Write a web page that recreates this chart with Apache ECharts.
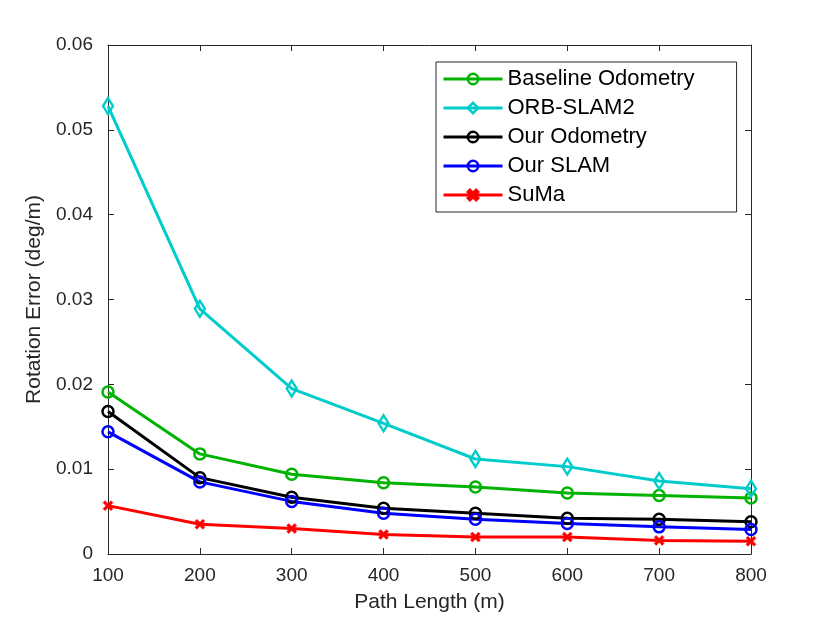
<!DOCTYPE html>
<html lang="en">
<head>
    <meta charset="UTF-8">
    <title>Rotation Error vs Path Length</title>
    <style>
        html, body { margin: 0; padding: 0; background: #fff; }
        #chart { width: 830px; height: 623px; }
    </style>
    <script src="https://cdn.jsdelivr.net/npm/echarts@6/dist/echarts.min.js"></script>
</head>
<body>
    <div id="chart"></div>
    <script>
        // path lengths (m)
        var pathLengths = [100, 200, 300, 400, 500, 600, 700, 800];

        // rotation error (deg/m)
        var baselineOdometry = [0.0191, 0.0118, 0.0094, 0.0084, 0.0079, 0.0072, 0.0069, 0.0066];
        var orbSlam2 = [0.0528, 0.0289, 0.0195, 0.0154, 0.0112, 0.0103, 0.0086, 0.0077];
        var ourOdometry = [0.0168, 0.0090, 0.0067, 0.0054, 0.0048, 0.0042, 0.0041, 0.0038];
        var ourSlam = [0.0144, 0.0085, 0.0062, 0.0048, 0.0041, 0.0036, 0.0032, 0.0029];
        var suma = [0.0057, 0.0035, 0.0030, 0.0023, 0.0020, 0.0020, 0.0016, 0.0015];

        var yTicks = [0, 0.01, 0.02, 0.03, 0.04, 0.05, 0.06];

        var textColor = '#262626';
        var axisColor = '#262626';
        var font = 'Liberation Sans, Arial, Helvetica, sans-serif';

        // bold x marker
        var crossPath = 'path://M0,2 L2,0 L5,3 L8,0 L10,2 L7,5 L10,8 L8,10 L5,7 L2,10 L0,8 L3,5 Z';

        function pairs(vals) {
            return pathLengths.map(function (x, i) { return [x, vals[i]]; });
        }

        function makeSeries(name, vals, color, symbol, size, fill) {
            return {
                name: name,
                type: 'line',
                data: pairs(vals),
                symbol: symbol,
                symbolSize: size,
                showAllSymbol: true,
                lineStyle: { color: color, width: 3 },
                itemStyle: { color: fill || 'rgba(0,0,0,0)', borderColor: color, borderWidth: fill ? 0.5 : 2.5 },
                emphasis: { disabled: true },
                z: 3
            };
        }

        var chart = echarts.init(document.getElementById('chart'));

        var axisBase = {
            axisLine: { show: true, onZero: false, lineStyle: { color: axisColor, width: 1 } },
            axisTick: { show: true, inside: true, length: 6, lineStyle: { color: axisColor } },
            splitLine: { show: false }
        };

        chart.setOption({
            animation: false,
            backgroundColor: '#fff',
            textStyle: { fontFamily: font },
            grid: { left: 108, right: 79, top: 45, bottom: 69 },
            legend: {
                orient: 'vertical',
                left: 436,
                top: 62,
                padding: [6, 42, 6, 6],
                borderColor: '#262626',
                borderWidth: 1,
                backgroundColor: '#fff',
                itemWidth: 59,
                itemHeight: 13,
                itemGap: 7,
                lineStyle: { width: 3 },
                itemStyle: { borderWidth: 2.5 },
                textStyle: { fontSize: 22, color: '#000', fontFamily: font },
                data: ['Baseline Odometry', 'ORB-SLAM2', 'Our Odometry', 'Our SLAM', 'SuMa']
            },
            xAxis: [
                Object.assign({
                    type: 'value',
                    min: 100, max: 800, interval: 100,
                    name: 'Path Length (m)',
                    nameLocation: 'middle',
                    nameGap: 38,
                    nameTextStyle: { fontSize: 21, color: textColor },
                    axisLabel: { fontSize: 19, color: textColor, margin: 12 }
                }, axisBase),
                Object.assign({
                    type: 'value', position: 'top',
                    min: 100, max: 800, interval: 100,
                    axisLabel: { show: false }
                }, axisBase)
            ],
            yAxis: [
                Object.assign({
                    type: 'value',
                    min: 0, max: 0.06, interval: 0.01,
                    name: 'Rotation Error (deg/m)',
                    nameLocation: 'middle',
                    nameGap: 60,
                    nameTextStyle: { fontSize: 21, color: textColor },
                    axisLabel: {
                        fontSize: 19, color: textColor, margin: 15,
                        formatter: function (v) {
                            var t = yTicks.find(function (k) { return Math.abs(k - v) < 1e-9; });
                            return t === 0 ? '0' : t.toFixed(2);
                        }
                    }
                }, axisBase),
                Object.assign({
                    type: 'value', position: 'right',
                    min: 0, max: 0.06, interval: 0.01,
                    axisLabel: { show: false }
                }, axisBase)
            ],
            series: [
                makeSeries('Baseline Odometry', baselineOdometry, '#00b300', 'circle', 11),
                makeSeries('ORB-SLAM2', orbSlam2, '#00cccc', 'diamond', [10, 16]),
                makeSeries('Our Odometry', ourOdometry, '#000000', 'circle', 11),
                makeSeries('Our SLAM', ourSlam, '#0000ff', 'circle', 11),
                makeSeries('SuMa', suma, '#ff0000', crossPath, 10, '#ff0000')
            ]
        });
    </script>
</body>
</html>
